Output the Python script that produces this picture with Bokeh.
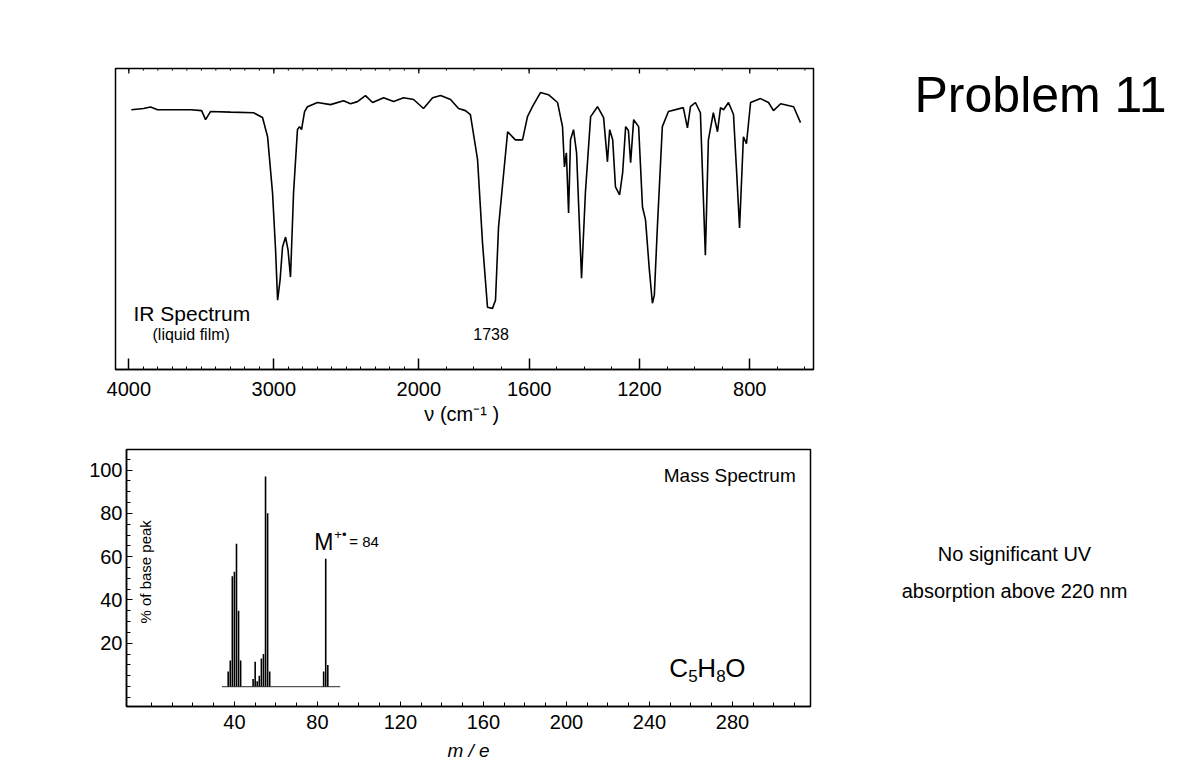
import numpy as np
from bokeh.plotting import figure
from bokeh.models import Range1d, FixedTicker, CustomJSTickFormatter, LinearAxis, Spacer
from bokeh.layouts import row, column
from bokeh.core.properties import value
from bokeh.embed import file_html
from bokeh.resources import INLINE

# ---------------- data ----------------
ir_wavenumber = [3983, 3899, 3850, 3802, 3574, 3498, 3471, 3437, 3299, 3140, 3078, 3043, 3009, 2988,
                 2974, 2957, 2940, 2919, 2902, 2885, 2864, 2837, 2823, 2809, 2788, 2768, 2699, 2609,
                 2519, 2471, 2423, 2368, 2319, 2243, 2174, 2105, 2036, 1983, 1950, 1921, 1885, 1856,
                 1831, 1813, 1787, 1769, 1751, 1733, 1722, 1711, 1697, 1678, 1650, 1624, 1606, 1588,
                 1559, 1530, 1497, 1479, 1472, 1465, 1457, 1450, 1439, 1428, 1410, 1396, 1377, 1352,
                 1330, 1316, 1308, 1297, 1287, 1272, 1261, 1250, 1240, 1232, 1221, 1203, 1189, 1178,
                 1164, 1153, 1146, 1135, 1117, 1095, 1041, 1026, 1015, 997, 979, 961, 950, 932,
                 917, 906, 895, 877, 859, 848, 837, 823, 812, 797, 761, 732, 714, 688, 641, 616]
ir_transmittance = [86.3, 86.7, 87.2, 86.3, 86.3, 86.0, 83.0, 85.7, 85.5, 85.3, 83.7, 77.3, 58.7, 39.7,
                    23.0, 29.7, 40.7, 44.0, 39.7, 30.7, 58.7, 79.7, 80.7, 79.7, 85.7, 87.3, 88.7, 88.0,
                    89.3, 88.3, 89.0, 91.0, 88.7, 90.3, 89.0, 90.3, 89.7, 86.7, 90.3, 91.0, 89.7, 86.7,
                    86.0, 84.7, 69.7, 42.0, 20.7, 20.3, 23.0, 47.3, 60.7, 79.0, 76.3, 76.3, 84.0, 87.3,
                    92.0, 91.3, 88.7, 80.7, 67.3, 72.0, 52.0, 76.3, 79.7, 72.0, 30.3, 58.7, 84.0, 87.3,
                    83.7, 69.0, 79.7, 76.3, 60.7, 58.0, 65.3, 80.7, 79.4, 68.7, 83.0, 80.7, 54.0, 49.7,
                    33.0, 22.0, 24.7, 47.3, 80.7, 85.7, 87.0, 80.3, 87.3, 88.7, 85.3, 38.0, 76.3, 85.3,
                    79.0, 87.0, 86.3, 88.7, 84.7, 66.3, 47.0, 77.3, 75.0, 88.7, 90.0, 88.7, 86.0, 88.3,
                    87.3, 82.0]
ir_major_ticks = [4000, 3000, 2000, 1600, 1200, 800]
ir_minor_ticks = list(range(4000, 599, -100))
ir_annotation_wavenumber = 1738

ms_mz = [37, 38, 39, 40, 41, 42, 43, 49, 50, 51, 52, 53, 54, 55, 56, 57, 83, 84, 85]
ms_intensity = [7, 12, 51, 53, 66, 35, 12, 3.5, 11.5, 2.5, 5, 13, 15, 97, 80, 7, 7, 59, 10]
ms_scan_range = [34, 91]
ms_x_labels = [40, 80, 120, 160, 200, 240, 280]
ms_x_minor = list(range(0, 321, 10))
ms_y_labels = [20, 40, 60, 80, 100]
ms_y_minor = list(range(-5, 106, 5))
molecular_ion = 84

FONT = "Liberation Sans"

# IR chart uses a split scale: 4000-2000 compressed, below 2000 expanded
SPLIT = 2000.0
K = 1.902


def ir_pos(w):
    w = np.asarray(w, dtype=float)
    return np.where(w >= SPLIT, 4000.0 - w, SPLIT + K * (SPLIT - w))


ir_fmt = CustomJSTickFormatter(code="""
const w = tick <= 2000 ? 4000 - tick : 2000 - (tick - 2000) / 1.902;
return Math.round(w).toString();
""")
ir_ticker = FixedTicker(ticks=list(ir_pos(ir_major_ticks)), minor_ticks=list(ir_pos(ir_minor_ticks)))

# ---------------- IR figure ----------------
ir = figure(frame_width=698, frame_height=301, x_range=Range1d(-92, 4722), y_range=Range1d(0, 100),
            output_backend="svg", toolbar_location=None, title=None,
            x_axis_location=None, y_axis_location=None,
            min_border_left=115, min_border_right=9, min_border_top=68, min_border_bottom=63)
ir.grid.visible = False
ir.outline_line_color = "black"
ir.outline_line_width = 1.5
ir.background_fill_color = "white"

bottom = LinearAxis(ticker=ir_ticker, formatter=ir_fmt)
bottom.major_tick_in = 11
bottom.major_tick_out = 0
bottom.minor_tick_in = 3
bottom.minor_tick_out = 0
bottom.major_tick_line_width = 1.5
bottom.axis_line_width = 1.5
bottom.major_label_standoff = 12
bottom.major_label_text_font = FONT
bottom.major_label_text_font_size = "20px"
bottom.major_label_text_color = "black"
bottom.axis_label = "ν  (cm⁻¹ )"
bottom.axis_label_text_font = FONT
bottom.axis_label_text_font_size = "20px"
bottom.axis_label_text_font_style = "normal"
bottom.axis_label_text_color = "black"
bottom.axis_label_standoff = 4
ir.add_layout(bottom, "below")

# small inward ticks along the top edge of the IR frame
top_major = ir_pos(ir_major_ticks)
top_minor = ir_pos(ir_minor_ticks)
ir.segment(x0=top_major, y0=[100] * len(top_major), x1=top_major, y1=[98.3] * len(top_major),
           line_color="black", line_width=1.3)
ir.segment(x0=top_minor, y0=[100] * len(top_minor), x1=top_minor, y1=[99.3] * len(top_minor),
           line_color="black", line_width=1)

ir.line(ir_pos(ir_wavenumber), ir_transmittance, line_color="black", line_width=1.6)

ir.text(x=[ir_pos(3968)], y=[18.7], text=["IR Spectrum"], text_font=value(FONT),
        text_font_size="21px", text_align="left", text_baseline="middle", text_color="black")
ir.text(x=[ir_pos(3570)], y=[11.7], text=["(liquid film)"], text_font=value(FONT),
        text_font_size="16px", text_align="center", text_baseline="middle", text_color="black")
ir.text(x=[ir_pos(ir_annotation_wavenumber)], y=[11.7], text=[str(ir_annotation_wavenumber)],
        text_font=value(FONT), text_font_size="16px", text_align="center", text_baseline="middle",
        text_color="black")

# ---------------- Mass spectrum figure ----------------
ms = figure(frame_width=684, frame_height=257, x_range=Range1d(-12, 317.6), y_range=Range1d(-9.2, 109.5),
            output_backend="svg", toolbar_location=None, title=None,
            x_axis_location=None, y_axis_location=None,
            min_border_left=115, min_border_right=12, min_border_top=17, min_border_bottom=60)
ms.grid.visible = False
ms.outline_line_color = "black"
ms.outline_line_width = 1.5

mx = LinearAxis(ticker=FixedTicker(ticks=ms_x_labels, minor_ticks=ms_x_minor))
mx.major_tick_in = 5
mx.major_tick_out = 0
mx.minor_tick_in = 4
mx.minor_tick_out = 0
mx.axis_line_width = 1.5
mx.major_label_standoff = 8
mx.major_label_text_font = FONT
mx.major_label_text_font_size = "20px"
mx.major_label_text_color = "black"
mx.axis_label = "m / e"
mx.axis_label_text_font = FONT
mx.axis_label_text_font_size = "19px"
mx.axis_label_text_font_style = "italic"
mx.axis_label_text_color = "black"
mx.axis_label_standoff = 8
ms.add_layout(mx, "below")

my = LinearAxis(ticker=FixedTicker(ticks=ms_y_labels, minor_ticks=ms_y_minor))
my.major_tick_in = 6
my.major_tick_out = 0
my.minor_tick_in = 4
my.minor_tick_out = 0
my.axis_line_width = 1.5
my.major_label_standoff = 4
my.major_label_text_font = FONT
my.major_label_text_font_size = "20px"
my.major_label_text_color = "black"
ms.add_layout(my, "left")

ms.line(ms_scan_range, [0, 0], line_color="#555555", line_width=1.2)
ms.segment(x0=ms_mz, y0=[0] * len(ms_mz), x1=ms_mz, y1=ms_intensity, line_color="black", line_width=1.6)

ms.text(x=[-3], y=[53], text=["% of base peak"], angle=np.pi / 2, text_font=value(FONT),
        text_font_size="15px", text_align="center", text_baseline="middle")
ms.text(x=[310.5], y=[97.7], text=["Mass Spectrum"], text_font=value(FONT),
        text_font_size="19px", text_align="right", text_baseline="middle")
# molecular ion label
ms.text(x=[molecular_ion - 5.5], y=[67], text=["M"], text_font=value(FONT), text_font_size="23px",
        text_align="left", text_baseline="middle")
ms.text(x=[molecular_ion - 5.5], y=[67], x_offset=20, y_offset=-7, text=["+•"], text_font=value(FONT),
        text_font_size="13px", text_align="left", text_baseline="middle")
ms.text(x=[molecular_ion - 5.5], y=[67], x_offset=35, text=["= " + str(molecular_ion)],
        text_font=value(FONT), text_font_size="15px", text_align="left", text_baseline="middle")
# formula
fx = 249.5
ms.text(x=[fx] * 3, y=[8.6] * 3, x_offset=[0, 28, 56], text=["C", "H", "O"], text_font=value(FONT),
        text_font_size="26px", text_align="left", text_baseline="middle")
ms.text(x=[fx] * 2, y=[8.6] * 2, x_offset=[19, 47], y_offset=[8, 8], text=["5", "8"], text_font=value(FONT),
        text_font_size="17px", text_align="left", text_baseline="middle")

# ---------------- right-hand text panel ----------------
txt = figure(width=350, height=766, x_range=Range1d(822, 1172), y_range=Range1d(766, 0),
             output_backend="svg", toolbar_location=None, title=None,
             x_axis_location=None, y_axis_location=None, min_border=0)
txt.grid.visible = False
txt.outline_line_color = None
txt.text(x=[1040], y=[94], text=["Problem 11"], text_font=value(FONT), text_font_size="50px",
         text_align="center", text_baseline="middle")
txt.text(x=[1014, 1014], y=[553, 590], text=["No significant UV", "absorption above 220 nm"],
         text_font=value(FONT), text_font_size="20px", text_align="center", text_baseline="middle")

layout = row(column(ir, row(Spacer(width=11, height=334), ms)), txt)
open("out.html", "w").write(file_html(layout, INLINE))
